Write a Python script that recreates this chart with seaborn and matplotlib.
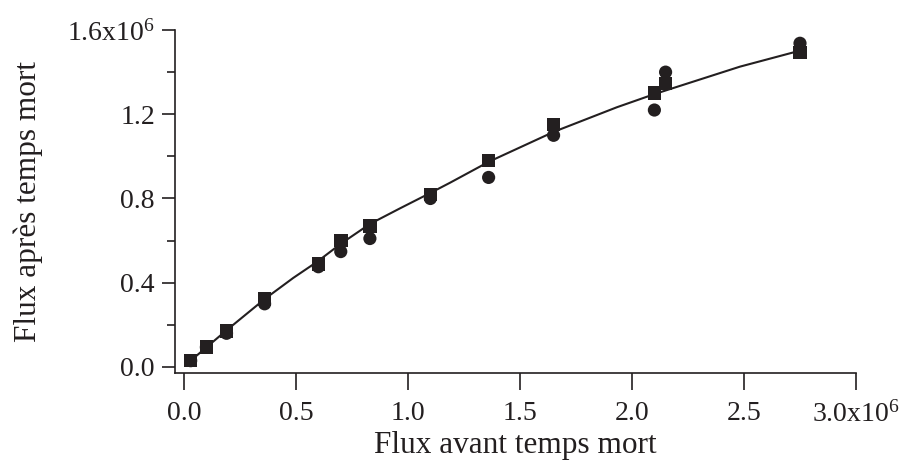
import numpy as np
import pandas as pd
import matplotlib
matplotlib.use("Agg")
import matplotlib.pyplot as plt
import seaborn as sns

# Data (values in units of 1e6)
flux_avant = [0.03, 0.10, 0.19, 0.36, 0.60, 0.70, 0.83, 1.10, 1.36, 1.65, 2.10, 2.15, 2.75]
flux_apres_carres = [0.03, 0.094, 0.172, 0.324, 0.49, 0.60, 0.67, 0.82, 0.98, 1.152, 1.30, 1.347, 1.494]
flux_apres_ronds = [0.03, 0.094, 0.16, 0.30, 0.476, 0.548, 0.61, 0.80, 0.90, 1.10, 1.22, 1.40, 1.537]

# Fitted curve
courbe_x = [0.03, 0.1875, 0.362, 0.488, 0.595, 0.70, 0.83, 0.964, 1.103, 1.188, 1.362, 1.652, 1.932, 2.101, 2.482, 2.75]
courbe_y = [0.03, 0.172, 0.324, 0.423, 0.500, 0.585, 0.679, 0.753, 0.828, 0.875, 0.975, 1.117, 1.233, 1.296, 1.426, 1.502]

x_ticks = [0.0, 0.5, 1.0, 1.5, 2.0, 2.5, 3.0]
x_ticklabels = ["0.0", "0.5", "1.0", "1.5", "2.0", "2.5", r"3.0x10$^{6}$"]
y_ticks = [0.0, 0.4, 0.8, 1.2, 1.6]
y_ticklabels = ["0.0", "0.4", "0.8", "1.2", r"1.6x10$^{6}$"]

sns.set_theme(style="ticks")
plt.rcParams["font.family"] = ["Liberation Serif", "DejaVu Serif"]
plt.rcParams["mathtext.fontset"] = "custom"
plt.rcParams["mathtext.rm"] = "Liberation Serif"
plt.rcParams["mathtext.it"] = "Liberation Serif"

ink = "#231f20"

fig = plt.figure(figsize=(9.06, 4.68), dpi=100)
ax = fig.add_axes([175 / 906, 1 - 373 / 468, (856 - 175) / 906, (373 - 30) / 468])

df_c = pd.DataFrame({"x": flux_avant, "y": flux_apres_ronds})
df_s = pd.DataFrame({"x": flux_avant, "y": flux_apres_carres})
df_f = pd.DataFrame({"x": courbe_x, "y": courbe_y})

sns.lineplot(data=df_f, x="x", y="y", ax=ax, color=ink, lw=1.5, sort=True, zorder=2)
sns.scatterplot(data=df_c, x="x", y="y", ax=ax, marker="o", s=90, color=ink,
                edgecolor="none", linewidth=0, zorder=3)
sns.scatterplot(data=df_s, x="x", y="y", ax=ax, marker="s", s=95, color=ink,
                edgecolor="none", linewidth=0, zorder=4)

ax.set_xlim(-0.040, 3.0)
ax.set_ylim(-0.0285, 1.6)
ax.set_xticks(x_ticks)
ax.set_xticklabels(x_ticklabels)
ax.set_yticks(y_ticks)
ax.set_yticklabels(y_ticklabels)
ax.set_yticks([0.2, 0.6, 1.0, 1.4], minor=True)

for s in ["top", "right"]:
    ax.spines[s].set_visible(False)
for s in ["left", "bottom"]:
    ax.spines[s].set_linewidth(1.2)
    ax.spines[s].set_color(ink)

ax.tick_params(axis="x", which="major", direction="out", length=12, width=1.2,
               colors=ink, labelsize=20, pad=8)
ax.tick_params(axis="y", which="major", direction="out", length=9.5, width=1.2,
               colors=ink, labelsize=20, pad=5)
ax.tick_params(axis="y", which="minor", direction="out", length=6, width=1.2, colors=ink)

ax.set_xlabel("Flux avant temps mort", fontsize=22.5, color=ink, labelpad=3)
ax.set_ylabel("Flux après temps mort", fontsize=22.5, color=ink, labelpad=17)

fig.savefig("out.png", dpi=100)
